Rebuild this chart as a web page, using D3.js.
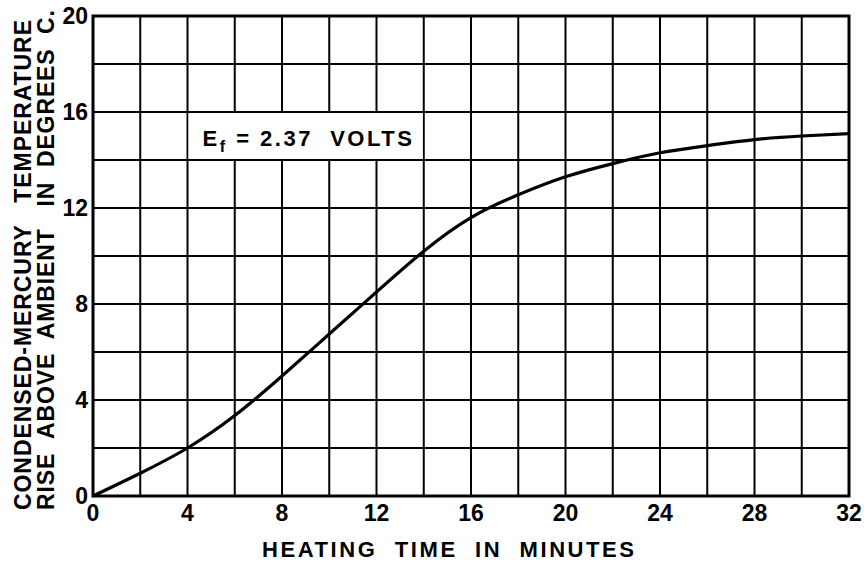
<!DOCTYPE html>
<html lang="en">
<head>
    <meta charset='utf-8'>
    <title>Condensed-mercury temperature rise</title>
    <style>
        body { margin: 0; background: #fff; }
        text {
            font-family: "Liberation Sans", Arial, sans-serif;
            font-weight: bold;
            fill: #000;
        }
    </style>
</head>
<body>
<div id="chart"></div>
<script src="https://cdn.jsdelivr.net/npm/d3@7"></script>
<script>
    // data
    var minutes = [0, 2, 4, 6, 8, 10, 12, 14, 16, 18, 20, 22, 24, 26, 28, 30, 32];
    var tempRise = [0, 0.95, 2.0, 3.35, 5.0, 6.75, 8.5, 10.2, 11.6, 12.55, 13.3, 13.85, 14.3, 14.6, 14.85, 15.0, 15.1];
    var xTicks = [0, 4, 8, 12, 16, 20, 24, 28, 32];
    var yTicks = [0, 4, 8, 12, 16, 20];
    var xTitle = "HEATING  TIME  IN  MINUTES";
    var yTitle1 = "CONDENSED-MERCURY   TEMPERATURE";
    var yTitle2 = "RISE  ABOVE  AMBIENT   IN  DEGREES  C.";

    var width = 864, height = 567;
    var plotLeft = 93, plotRight = 849, plotTop = 16, plotBottom = 496;

    var svg = d3.select("#chart").append("svg")
        .attr("width", width).attr("height", height);

    var x = d3.scaleLinear().domain([0, 32]).range([plotLeft, plotRight]);
    var y = d3.scaleLinear().domain([0, 20]).range([plotBottom, plotTop]);

    // grid every 2 units
    svg.append("g").selectAll("line")
        .data(d3.range(2, 32, 2)).enter()
        .append("line")
        .attr("x1", function(d) { return x(d); })
        .attr("x2", function(d) { return x(d); })
        .attr("y1", plotTop).attr("y2", plotBottom)
        .attr("stroke", "#000").attr("stroke-width", 2);
    svg.append("g").selectAll("line")
        .data(d3.range(2, 20, 2)).enter()
        .append("line")
        .attr("y1", function(d) { return y(d); })
        .attr("y2", function(d) { return y(d); })
        .attr("x1", plotLeft).attr("x2", plotRight)
        .attr("stroke", "#000").attr("stroke-width", 2);

    // label box blanks out the grid
    svg.append("rect")
        .attr("x", x(4) + 1).attr("y", y(16) + 1)
        .attr("width", x(14) - x(4) - 2).attr("height", y(14) - y(16) - 2)
        .attr("fill", "#fff");

    var ann = svg.append("text")
        .attr("x", x(4) + 15).attr("y", y(14) - 14)
        .style("font-size", "22px")
        .style("letter-spacing", "2.5px")
        .style("white-space", "pre");
    ann.append("tspan").text("E");
    ann.append("tspan").attr("dy", 6).style("font-size", "16px").text("f");
    ann.append("tspan").attr("dy", -6).text(" = 2.37  VOLTS");

    // frame
    svg.append("rect")
        .attr("x", plotLeft).attr("y", plotTop)
        .attr("width", plotRight - plotLeft).attr("height", plotBottom - plotTop)
        .attr("fill", "none").attr("stroke", "#000").attr("stroke-width", 3);

    // curve
    var line = d3.line()
        .x(function(d, i) { return x(minutes[i]); })
        .y(function(d) { return y(d); })
        .curve(d3.curveNatural);
    svg.append("path")
        .datum(tempRise)
        .attr("d", line)
        .attr("fill", "none").attr("stroke", "#000").attr("stroke-width", 3.2);

    // tick labels
    svg.append("g").selectAll("text")
        .data(xTicks).enter()
        .append("text")
        .attr("x", function(d) { return x(d); })
        .attr("y", plotBottom + 25)
        .style("text-anchor", "middle")
        .style("font-size", "23px")
        .text(function(d) { return d; });
    svg.append("g").selectAll("text")
        .data(yTicks).enter()
        .append("text")
        .attr("x", plotLeft - 5)
        .attr("y", function(d) { return y(d) + 8; })
        .style("text-anchor", "end")
        .style("font-size", "23px")
        .text(function(d) { return d; });

    // axis titles
    svg.append("text")
        .attr("x", 262).attr("y", 557)
        .attr("textLength", 372).attr("lengthAdjust", "spacing")
        .style("font-size", "22px")
        .style("white-space", "pre")
        .text(xTitle);
    svg.append("text")
        .attr("transform", "translate(31,510) rotate(-90)")
        .attr("textLength", 490).attr("lengthAdjust", "spacing")
        .style("font-size", "23px")
        .style("white-space", "pre")
        .text(yTitle1);
    svg.append("text")
        .attr("transform", "translate(54,510) rotate(-90)")
        .attr("textLength", 500).attr("lengthAdjust", "spacing")
        .style("font-size", "23px")
        .style("white-space", "pre")
        .text(yTitle2);
</script>
</body>
</html>
